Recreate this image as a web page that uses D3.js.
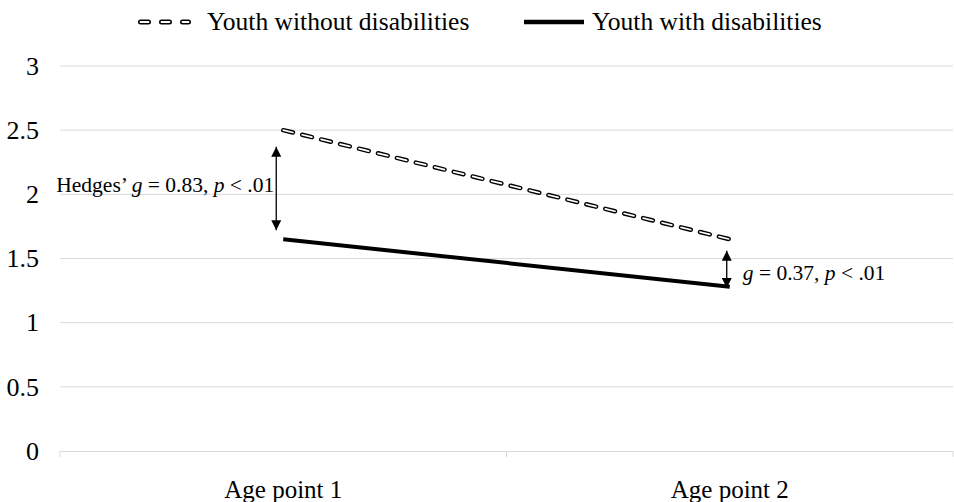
<!DOCTYPE html>
<html>
<head>
<meta charset="utf-8">
<script src="https://cdn.jsdelivr.net/npm/d3@7"></script>
<style>
	body { margin: 0; background: #fff; }
	svg text { font-family: "Liberation Serif", serif; fill: #000; }
</style>
</head>
<body>
<div class="line-chart"></div>
<script>
const categories = ['Age point 1', 'Age point 2'];
const withoutDis = [2.5, 1.65];
const withDis = [1.65, 1.28];
const yTicks = [0, 0.5, 1, 1.5, 2, 2.5, 3];

const W = 954, H = 502;
const margin = ({top: 66, right: 1, bottom: 51, left: 60});
const width = W - margin.left - margin.right;
const height = H - margin.top - margin.bottom;
const serif = '"Liberation Serif", serif';

const svg = d3.select('.line-chart').append('svg')
	.attr('width', W)
	.attr('height', H)
	.style('font-family', serif);

const defs = svg.append('defs');
defs.append('marker')
	.attr('id', 'head')
	.attr('viewBox', '0 0 10 10')
	.attr('refX', 10).attr('refY', 5)
	.attr('markerWidth', 10).attr('markerHeight', 10)
	.attr('markerUnits', 'userSpaceOnUse')
	.attr('orient', 'auto-start-reverse')
	.append('path')
	.attr('d', 'M0,0 L10,5 L0,10 Z')
	.attr('fill', '#000');

const g = svg.append('g')
	.attr('transform', `translate(${margin.left},${margin.top})`);

const xScale = d3.scaleBand()
	.domain(categories)
	.range([0, width]);

const yScale = d3.scaleLinear()
	.domain([0, 3])
	.range([height, 0]);

// gridlines
g.selectAll('.grid')
	.data(yTicks.filter(d => d > 0))
	.enter().append('line')
	.attr('class', 'grid')
	.attr('x1', 0).attr('x2', width)
	.attr('y1', d => yScale(d)).attr('y2', d => yScale(d))
	.attr('stroke', '#d9d9d9')
	.attr('stroke-width', 1);

// x axis
const xAxis = g.append('g')
	.attr('transform', `translate(0,${height})`)
	.call(d3.axisBottom(xScale).tickSize(0).tickPadding(29));
xAxis.attr('font-family', null).attr('font-size', null);
xAxis.select('.domain').attr('stroke', '#d9d9d9');
xAxis.selectAll('text').style('font-size', '25px').style('font-family', serif);

// category boundary ticks
const bounds = [0].concat(categories.map(c => xScale(c) + xScale.bandwidth()));
xAxis.selectAll('.bt')
	.data(bounds)
	.enter().append('line')
	.attr('x1', d => d).attr('x2', d => d)
	.attr('y1', 0).attr('y2', 6)
	.attr('stroke', '#d9d9d9');

// y axis labels
const yAxis = g.append('g')
	.call(d3.axisLeft(yScale).tickValues(yTicks).tickSize(0).tickPadding(21).tickFormat(d3.format('')));
yAxis.attr('font-family', null).attr('font-size', null);
yAxis.select('.domain').remove();
yAxis.selectAll('text').style('font-size', '26px').style('font-family', serif);

const cx = c => xScale(c) + xScale.bandwidth() / 2;

const line = d3.line()
	.x((d, i) => cx(categories[i]))
	.y(d => yScale(d));

// dashed series: outlined white dashes
g.append('path')
	.datum(withoutDis)
	.attr('d', line)
	.attr('fill', 'none')
	.attr('stroke', '#000')
	.attr('stroke-width', 4.5)
	.attr('stroke-linecap', 'round')
	.attr('stroke-dasharray', '10,9.5');
g.append('path')
	.datum(withoutDis)
	.attr('d', line)
	.attr('fill', 'none')
	.attr('stroke', '#fff')
	.attr('stroke-width', 1.7)
	.attr('stroke-linecap', 'round')
	.attr('stroke-dasharray', '10,9.5');

g.append('path')
	.datum(withDis)
	.attr('d', line)
	.attr('fill', 'none')
	.attr('stroke', '#000')
	.attr('stroke-width', 4);

// difference arrows
const arrows = [
	{i: 0, dx: -7, top: 2.37, bottom: 1.72},
	{i: 1, dx: -3, top: 1.56, bottom: 1.27}
];
g.selectAll('.arrow')
	.data(arrows)
	.enter().append('line')
	.attr('x1', d => cx(categories[d.i]) + d.dx)
	.attr('x2', d => cx(categories[d.i]) + d.dx)
	.attr('y1', d => yScale(d.top))
	.attr('y2', d => yScale(d.bottom))
	.attr('stroke', '#000')
	.attr('stroke-width', 1.3)
	.attr('marker-start', 'url(#head)')
	.attr('marker-end', 'url(#head)');

// annotations
const t1 = g.append('text')
	.attr('x', cx(categories[0]) - 9)
	.attr('y', yScale(2.02))
	.attr('text-anchor', 'end')
	.style('font-size', '21.5px');
t1.append('tspan').text('Hedges’ ');
t1.append('tspan').attr('font-style', 'italic').text('g');
t1.append('tspan').text(' = 0.83, ');
t1.append('tspan').attr('font-style', 'italic').text('p');
t1.append('tspan').text(' < .01');

const t2 = g.append('text')
	.attr('x', cx(categories[1]) + 13)
	.attr('y', yScale(1.33))
	.style('font-size', '21.5px');
t2.append('tspan').attr('font-style', 'italic').text('g');
t2.append('tspan').text(' = 0.37,  ');
t2.append('tspan').attr('font-style', 'italic').text('p');
t2.append('tspan').text(' < .01');

// legend
const legend = svg.append('g').attr('transform', 'translate(0,22)');
legend.append('line')
	.attr('x1', 140.5).attr('x2', 188.5).attr('y1', 0).attr('y2', 0)
	.attr('stroke', '#000').attr('stroke-width', 5)
	.attr('stroke-linecap', 'round').attr('stroke-dasharray', '8,13');
legend.append('line')
	.attr('x1', 140.5).attr('x2', 188.5).attr('y1', 0).attr('y2', 0)
	.attr('stroke', '#fff').attr('stroke-width', 1.9)
	.attr('stroke-linecap', 'round').attr('stroke-dasharray', '8,13');
legend.append('text')
	.attr('x', 207).attr('y', 30 - 22)
	.style('font-size', '25.5px')
	.text('Youth without disabilities');
legend.append('line')
	.attr('x1', 524).attr('x2', 584).attr('y1', 0).attr('y2', 0)
	.attr('stroke', '#000').attr('stroke-width', 4.5);
legend.append('text')
	.attr('x', 592).attr('y', 30 - 22)
	.style('font-size', '25.5px')
	.text('Youth with disabilities');
</script>
</body>
</html>
